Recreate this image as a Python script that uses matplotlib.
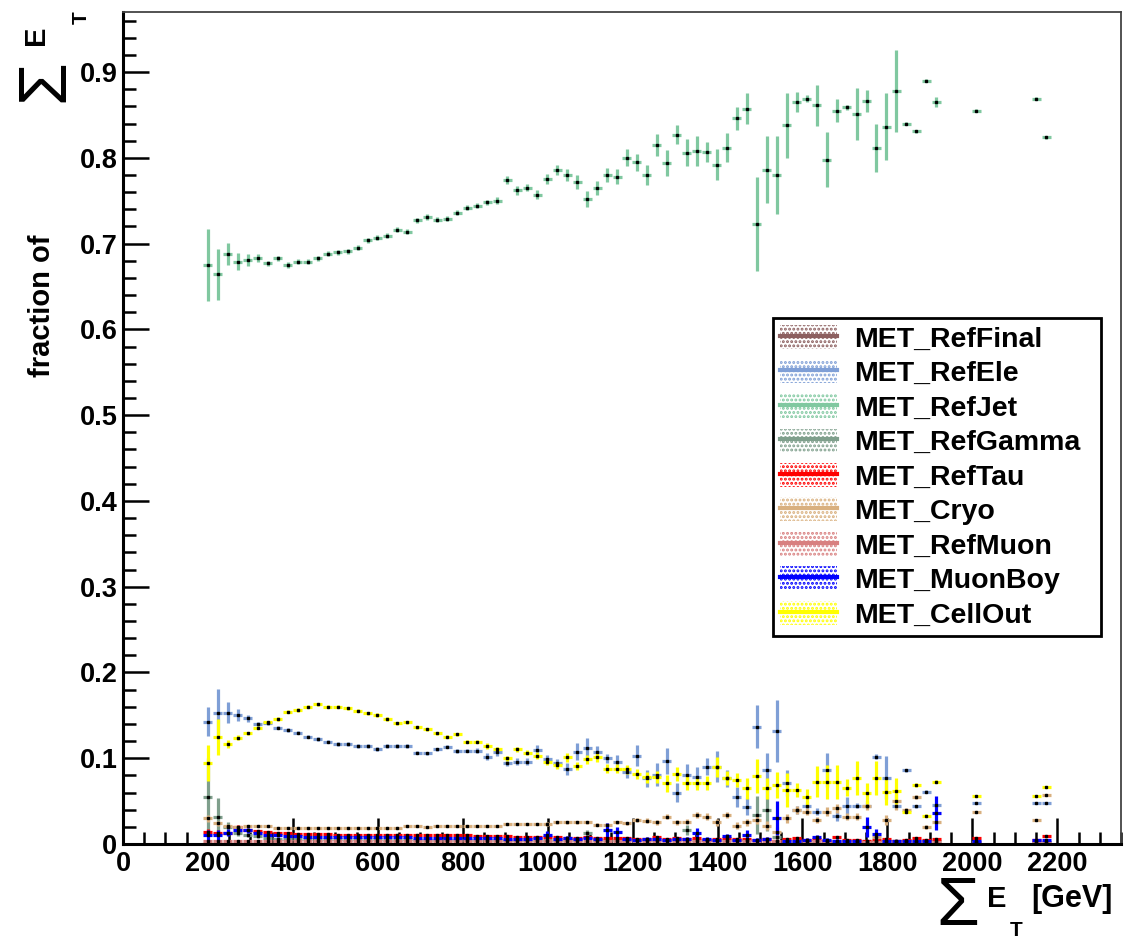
import numpy as np
import matplotlib
matplotlib.use('Agg')
import matplotlib.pyplot as plt
from matplotlib.patches import Rectangle
from matplotlib.lines import Line2D
from matplotlib.ticker import MultipleLocator, FuncFormatter

plt.rcParams['font.family'] = ['Liberation Sans', 'DejaVu Sans']
plt.rcParams['font.weight'] = 'bold'
plt.rcParams['hatch.linewidth'] = 1.4

# 100 bins of 23.5 GeV from 0 to 2350 GeV, only the filled ones are listed
edges = np.linspace(0, 2350, 101)
filled_bins = list(range(8, 82)) + [85, 91, 92]

# fractions, one value per filled bin
refjet = [0.675, 0.664, 0.688, 0.679, 0.681, 0.683, 0.677, 0.683, 0.675, 0.679, 0.679, 0.683, 0.688, 0.690,
          0.691, 0.695, 0.704, 0.707, 0.709, 0.716, 0.714, 0.727, 0.731, 0.728, 0.729, 0.736, 0.742, 0.744,
          0.748, 0.750, 0.774, 0.762, 0.765, 0.757, 0.775, 0.786, 0.780, 0.772, 0.752, 0.765, 0.780, 0.778,
          0.800, 0.795, 0.780,
          0.815, 0.794, 0.827, 0.806, 0.808, 0.807, 0.792, 0.812, 0.846, 0.857, 0.723, 0.786, 0.780, 0.838,
          0.865, 0.869, 0.861, 0.798, 0.855, 0.859, 0.851, 0.866, 0.811, 0.836, 0.878, 0.840, 0.831, 0.890,
          0.865,
          0.855, 0.869, 0.824]
refjet_err = [0.042, 0.030, 0.013, 0.010, 0.007, 0.005, 0.003, 0.003, 0.003, 0.003, 0.003, 0.003, 0.003, 0.003,
              0.003, 0.003, 0.003, 0.003, 0.003, 0.003, 0.003, 0.003, 0.003, 0.003, 0.003, 0.003, 0.003, 0.003,
              0.003, 0.004, 0.005, 0.005, 0.004, 0.005, 0.006, 0.006, 0.007, 0.008, 0.009, 0.008, 0.008, 0.009,
              0.010, 0.010, 0.012,
              0.013, 0.015, 0.011, 0.016, 0.018, 0.012, 0.018, 0.017, 0.013, 0.018, 0.055, 0.039, 0.045, 0.038,
              0.012, 0.004, 0.024, 0.032, 0.013, 0.003, 0.030, 0.013, 0.028, 0.039, 0.048, 0.002, 0.002, 0.002,
              0.006,
              0.002, 0.002, 0.002]

refele = [0.1425, 0.153, 0.153, 0.150, 0.1465, 0.1395, 0.1406, 0.1356, 0.1329, 0.1297, 0.1251, 0.1224, 0.1193,
          0.1166, 0.1166, 0.1142, 0.1142, 0.1107, 0.1142, 0.1142, 0.1142, 0.1064, 0.1057, 0.1104, 0.1134, 0.1084,
          0.1088, 0.1088,
          0.1018, 0.1069, 0.0948, 0.096, 0.096, 0.1096, 0.099, 0.094, 0.088, 0.1076, 0.1115, 0.1076, 0.0999,
          0.096, 0.084, 0.103, 0.0766,
          0.081, 0.0965, 0.060, 0.081, 0.078, 0.090, 0.090, 0.0766, 0.055, 0.0435, 0.1367, 0.086, 0.1317, 0.0715,
          0.0396, 0.0447, 0.0377, 0.086, 0.0326, 0.0447, 0.0447, 0.0444, 0.1018, 0.0773, 0.044, 0.086, 0.044,
          0.061, 0.045,
          0.0474, 0.0474, 0.0474]
refele_err = [0.017, 0.028, 0.012, 0.007, 0.004, 0.003, 0.002, 0.002, 0.002, 0.002, 0.002, 0.002, 0.002, 0.002,
              0.002, 0.002, 0.002, 0.002, 0.002, 0.002, 0.002, 0.002, 0.002, 0.002, 0.002, 0.002, 0.002, 0.003,
              0.004, 0.004, 0.004, 0.004, 0.004, 0.006, 0.005, 0.005, 0.007, 0.010, 0.012, 0.007, 0.005, 0.008,
              0.007, 0.012, 0.010,
              0.013, 0.015, 0.011, 0.012, 0.012, 0.010, 0.018, 0.010, 0.012, 0.010, 0.025, 0.020, 0.036, 0.015,
              0.005, 0.004, 0.004, 0.020, 0.006, 0.010, 0.003, 0.003, 0.003, 0.025, 0.003, 0.002, 0.002, 0.002,
              0.002,
              0.001, 0.001, 0.001]

cellout = [0.094, 0.125, 0.1166, 0.124, 0.129, 0.1356, 0.1418, 0.1457, 0.1542, 0.1562, 0.160, 0.1628, 0.160,
           0.160, 0.158, 0.1554, 0.1523, 0.1503, 0.1457, 0.1406, 0.1418, 0.136, 0.1337, 0.129, 0.125, 0.1278,
           0.1192, 0.1192,
           0.1142, 0.1104, 0.0999, 0.1104, 0.1064, 0.103, 0.096, 0.092, 0.101, 0.0909, 0.0987, 0.101, 0.088,
           0.088, 0.087, 0.0816, 0.0777,
           0.0777, 0.0707, 0.0812, 0.0707, 0.0707, 0.0707, 0.090, 0.0766, 0.0746, 0.065, 0.079, 0.065, 0.0688,
           0.063, 0.063, 0.0544, 0.0726, 0.0726, 0.0726, 0.0656, 0.0766, 0.059, 0.0766, 0.061, 0.062, 0.0377,
           0.0688, 0.033, 0.0726,
           0.056, 0.056, 0.0668]
cellout_err = [0.021, 0.021, 0.005, 0.003, 0.002, 0.002, 0.002, 0.002, 0.002, 0.002, 0.002, 0.002, 0.002, 0.002,
               0.002, 0.002, 0.002, 0.002, 0.002, 0.002, 0.002, 0.002, 0.002, 0.002, 0.002, 0.002, 0.002, 0.002,
               0.003, 0.003, 0.003, 0.003, 0.003, 0.004, 0.004, 0.004, 0.005, 0.005, 0.005, 0.005, 0.005, 0.005,
               0.005, 0.006, 0.006,
               0.007, 0.010, 0.008, 0.008, 0.008, 0.008, 0.012, 0.008, 0.008, 0.012, 0.020, 0.012, 0.015, 0.020,
               0.008, 0.010, 0.018, 0.020, 0.020, 0.010, 0.020, 0.012, 0.020, 0.016, 0.015, 0.002, 0.002, 0.002,
               0.002,
               0.001, 0.001, 0.001]

cryo = [0.030, 0.024, 0.021, 0.020, 0.0214, 0.0214, 0.021, 0.0185, 0.0183, 0.0183, 0.0182, 0.0183, 0.0184,
        0.0183, 0.0183, 0.0182, 0.0183, 0.0183, 0.0184, 0.0183, 0.0214, 0.0214, 0.020, 0.0214, 0.0214, 0.0214,
        0.0214, 0.0214,
        0.0214, 0.0214, 0.0233, 0.0233, 0.0233, 0.0233, 0.0233, 0.0253, 0.0253, 0.0253, 0.0253, 0.0225, 0.0225,
        0.0253, 0.024, 0.028, 0.027,
        0.0253, 0.032, 0.0253, 0.026, 0.0338, 0.032, 0.0253, 0.0338, 0.0214, 0.0253, 0.028, 0.0214, 0.0144,
        0.030, 0.0396, 0.0377, 0.028, 0.0377, 0.0416, 0.032, 0.032, 0.0447, 0.0085, 0.028, 0.050, 0.0396, 0.055,
        0.020, 0.0253,
        0.0377, 0.028, 0.057]
cryo_err = [0.004, 0.003, 0.002, 0.001, 0.001, 0.001, 0.001, 0.001, 0.001, 0.001, 0.001, 0.001, 0.001, 0.001,
            0.001, 0.001, 0.001, 0.001, 0.001, 0.001, 0.001, 0.001, 0.001, 0.001, 0.001, 0.001, 0.001, 0.001,
            0.001, 0.001, 0.001, 0.001, 0.001, 0.001, 0.002, 0.002, 0.002, 0.002, 0.002, 0.002, 0.002, 0.002,
            0.002, 0.002, 0.003,
            0.003, 0.003, 0.003, 0.003, 0.004, 0.004, 0.004, 0.004, 0.004, 0.004, 0.005, 0.005, 0.005, 0.005,
            0.005, 0.004, 0.004, 0.005, 0.005, 0.004, 0.004, 0.005, 0.004, 0.006, 0.010, 0.002, 0.002, 0.002,
            0.002,
            0.001, 0.001, 0.001]

refgamma = [0.055, 0.032, 0.020, 0.013, 0.011, 0.009, 0.007, 0.006, 0.006, 0.006, 0.006, 0.005, 0.006, 0.006,
            0.005, 0.006, 0.005, 0.006, 0.005, 0.005, 0.006, 0.005, 0.005, 0.005, 0.005, 0.005, 0.005, 0.005,
            0.005, 0.005, 0.005, 0.005, 0.005, 0.005, 0.005, 0.005, 0.005, 0.005, 0.0125, 0.005, 0.005, 0.005,
            0.005, 0.005, 0.005,
            0.005, 0.005, 0.005, 0.016, 0.005, 0.005, 0.005, 0.005, 0.005, 0.005, 0.034, 0.040, 0.008, 0.004,
            0.004, 0.004, 0.004, 0.004, 0.004, 0.004, 0.004, 0.004, 0.004, 0.004, 0.004, 0.004, 0.004, 0.004,
            0.004,
            0.002, 0.002, 0.002]
refgamma_err = [0.045, 0.022, 0.006, 0.004, 0.003, 0.002, 0.002, 0.001, 0.001, 0.001, 0.001, 0.001, 0.001, 0.001,
                0.001, 0.001, 0.001, 0.001, 0.001, 0.001, 0.001, 0.001, 0.001, 0.001, 0.001, 0.001, 0.001, 0.001,
                0.001, 0.001, 0.001, 0.001, 0.001, 0.001, 0.001, 0.001, 0.001, 0.001, 0.004, 0.001, 0.001, 0.001,
                0.001, 0.001, 0.001,
                0.001, 0.001, 0.001, 0.006, 0.001, 0.001, 0.001, 0.001, 0.001, 0.001, 0.022, 0.025, 0.004, 0.001,
                0.001, 0.001, 0.001, 0.001, 0.001, 0.001, 0.001, 0.001, 0.001, 0.001, 0.001, 0.001, 0.001, 0.001,
                0.001,
                0.001, 0.001, 0.001]

reftau = [0.014, 0.013, 0.013, 0.020, 0.016, 0.015, 0.014, 0.013, 0.013, 0.012, 0.012, 0.012, 0.012, 0.011,
          0.011, 0.011, 0.011, 0.011, 0.011, 0.011, 0.010, 0.010, 0.011, 0.010, 0.010, 0.010, 0.010, 0.009,
          0.009, 0.009, 0.009, 0.008, 0.008, 0.008, 0.008, 0.008, 0.007, 0.007, 0.008, 0.007, 0.007, 0.007,
          0.007, 0.006, 0.006,
          0.008, 0.006, 0.007, 0.006, 0.007, 0.005, 0.006, 0.007, 0.006, 0.006, 0.005, 0.006, 0.004, 0.006,
          0.007, 0.005, 0.006, 0.004, 0.008, 0.005, 0.005, 0.004, 0.005, 0.006, 0.004, 0.005, 0.007, 0.005,
          0.006,
          0.007, 0.005, 0.009]
reftau_err = [0.004, 0.003, 0.002, 0.002, 0.002, 0.001, 0.001, 0.001, 0.001, 0.001, 0.001, 0.001, 0.001, 0.001,
              0.001, 0.001, 0.001, 0.001, 0.001, 0.001, 0.001, 0.001, 0.001, 0.001, 0.001, 0.001, 0.001, 0.001,
              0.001, 0.001, 0.001, 0.001, 0.001, 0.001, 0.001, 0.001, 0.001, 0.001, 0.001, 0.001, 0.001, 0.001,
              0.001, 0.001, 0.001,
              0.001, 0.001, 0.001, 0.001, 0.001, 0.001, 0.001, 0.001, 0.001, 0.001, 0.001, 0.001, 0.001, 0.001,
              0.001, 0.001, 0.001, 0.001, 0.001, 0.001, 0.001, 0.001, 0.001, 0.001, 0.001, 0.001, 0.001, 0.001,
              0.001,
              0.001, 0.001, 0.001]

refmuon = [0.003, 0.003, 0.003, 0.003, 0.003, 0.003, 0.003, 0.003, 0.003, 0.003, 0.003, 0.003, 0.003, 0.003,
           0.003, 0.003, 0.003, 0.003, 0.003, 0.003, 0.003, 0.003, 0.003, 0.003, 0.003, 0.003, 0.003, 0.003,
           0.003, 0.003, 0.003, 0.003, 0.003, 0.003, 0.003, 0.003, 0.003, 0.003, 0.003, 0.003, 0.003, 0.003,
           0.003, 0.003, 0.003,
           0.003, 0.003, 0.003, 0.004, 0.003, 0.003, 0.003, 0.003, 0.003, 0.003, 0.003, 0.003, 0.003, 0.003,
           0.002, 0.002, 0.003, 0.002, 0.002, 0.002, 0.002, 0.002, 0.002, 0.002, 0.002, 0.002, 0.002, 0.002,
           0.002,
           0.002, 0.002, 0.002]

muonboy = [0.010, 0.010, 0.013, 0.016, 0.016, 0.013, 0.011, 0.010, 0.009, 0.009, 0.008, 0.008, 0.008, 0.008,
           0.008, 0.008, 0.008, 0.008, 0.008, 0.008, 0.008, 0.007, 0.007, 0.007, 0.007, 0.007, 0.007, 0.007,
           0.007, 0.007, 0.006, 0.006, 0.006, 0.007, 0.011, 0.006, 0.007, 0.006, 0.007, 0.006, 0.016, 0.014,
           0.006, 0.005, 0.006,
           0.006, 0.005, 0.006, 0.006, 0.013, 0.006, 0.005, 0.009, 0.005, 0.011, 0.005, 0.006, 0.030, 0.004,
           0.004, 0.005, 0.008, 0.005, 0.004, 0.004, 0.004, 0.020, 0.012, 0.004, 0.003, 0.003, 0.004, 0.003,
           0.036,
           0.003, 0.005, 0.005]
muonboy_err = [0.006, 0.006, 0.004, 0.003, 0.003, 0.002, 0.002, 0.002, 0.002, 0.002, 0.002, 0.002, 0.002, 0.002,
               0.002, 0.002, 0.002, 0.002, 0.002, 0.002, 0.002, 0.002, 0.002, 0.002, 0.002, 0.002, 0.002, 0.002,
               0.002, 0.002, 0.002, 0.002, 0.002, 0.002, 0.004, 0.002, 0.002, 0.002, 0.002, 0.002, 0.008, 0.006,
               0.002, 0.002, 0.002,
               0.002, 0.002, 0.002, 0.002, 0.006, 0.002, 0.002, 0.003, 0.002, 0.005, 0.002, 0.002, 0.020, 0.002,
               0.002, 0.002, 0.003, 0.002, 0.002, 0.002, 0.002, 0.012, 0.005, 0.002, 0.002, 0.002, 0.002, 0.002,
               0.020,
               0.001, 0.001, 0.001]

reffinal = [0.0] * len(filled_bins)

labels = ['MET_RefFinal', 'MET_RefEle', 'MET_RefJet', 'MET_RefGamma', 'MET_RefTau',
          'MET_Cryo', 'MET_RefMuon', 'MET_MuonBoy', 'MET_CellOut']
colors = ['#8c5f5f', '#7f9fd6', '#80c8a0', '#7f9f8c', '#ff0000',
          '#d9b07f', '#d88080', '#0000ff', '#ffff00']
values = [reffinal, refele, refjet, refgamma, reftau, cryo, refmuon, muonboy, cellout]
errors = [[0.0] * len(filled_bins), refele_err, refjet_err, refgamma_err, reftau_err,
          cryo_err, [0.0005] * len(filled_bins), muonboy_err, cellout_err]

W, H = 1126, 940
fig = plt.figure(figsize=(W / 100, H / 100), dpi=100)
ax = fig.add_axes([123 / W, 1 - 844 / H, 998 / W, 832 / H])

centers = (0.5 * (edges[:-1] + edges[1:]))[filled_bins]
half = (0.5 * np.diff(edges))[filled_bins] * 0.9

for lab, col, v, e in zip(labels, colors, values, errors):
    ax.errorbar(centers, v, xerr=half, yerr=e, fmt='s', ms=1.6, mfc='black', mec='black',
                ecolor=col, elinewidth=2.3, capsize=0)

ax.set_xlim(0, 2350)
ax.set_ylim(0, 0.97)

ax.xaxis.set_major_locator(MultipleLocator(200))
ax.xaxis.set_minor_locator(MultipleLocator(50))
ax.yaxis.set_major_locator(MultipleLocator(0.1))
ax.yaxis.set_minor_locator(MultipleLocator(0.02))
ax.xaxis.set_major_formatter(FuncFormatter(lambda v, p: '%d' % v))
ax.yaxis.set_major_formatter(FuncFormatter(lambda v, p: '0' if abs(v) < 1e-9 else '%.1f' % v))
ax.tick_params(which='both', direction='in', top=False, right=False, width=1.8, labelsize=19.5)
ax.tick_params(which='major', length=18.5)
ax.tick_params(which='minor', length=9)
ax.tick_params(axis='x', pad=5)
ax.tick_params(axis='y', pad=4)
for side in ['left', 'bottom']:
    ax.spines[side].set_linewidth(2.2)
for side in ['top', 'right']:
    ax.spines[side].set_linewidth(1.3)
    ax.spines[side].set_color('#444444')


def px_text(x, y, s, **kw):
    fig.text(x / W, 1 - y / H, s, **kw)


# x axis title: sum E_T [GeV]
px_text(936, 925, 'Σ', fontsize=50, fontweight='normal', ha='left', va='baseline')
px_text(987, 907, 'E', fontsize=21, ha='left', va='baseline')
px_text(1010, 936, 'T', fontsize=15, ha='left', va='baseline')
px_text(1031, 907, '[GeV]', fontsize=22, ha='left', va='baseline')

# y axis title: fraction of sum E_T (rotated)
rot = dict(rotation=90, rotation_mode='anchor', ha='left', va='baseline')
px_text(50, 377, 'fraction of', fontsize=21, **rot)
px_text(63, 102, 'Σ', fontsize=50, fontweight='normal', **rot)
px_text(44, 45, 'E', fontsize=21, **rot)
px_text(87, 24, 'T', fontsize=15, **rot)

handles = []
for col in colors:
    patch = Rectangle((0, 0), 1, 1, facecolor='white', edgecolor=col, hatch='....', linewidth=0)
    line = Line2D([], [], color=col, lw=3.0)
    handles.append((patch, line))
leg = ax.legend(handles, labels, loc='upper left', mode='expand',
                bbox_to_anchor=(650 / 998, 0, 328 / 998, (844 - 318) / 832), fontsize=20.5,
                frameon=True, fancybox=False, edgecolor='black', framealpha=1,
                handlelength=2.0, handleheight=0.9, handletextpad=0.6, labelspacing=0.24,
                borderpad=0.25, borderaxespad=0)
leg.get_frame().set_linewidth(2.0)

fig.savefig('out.png', dpi=100)
